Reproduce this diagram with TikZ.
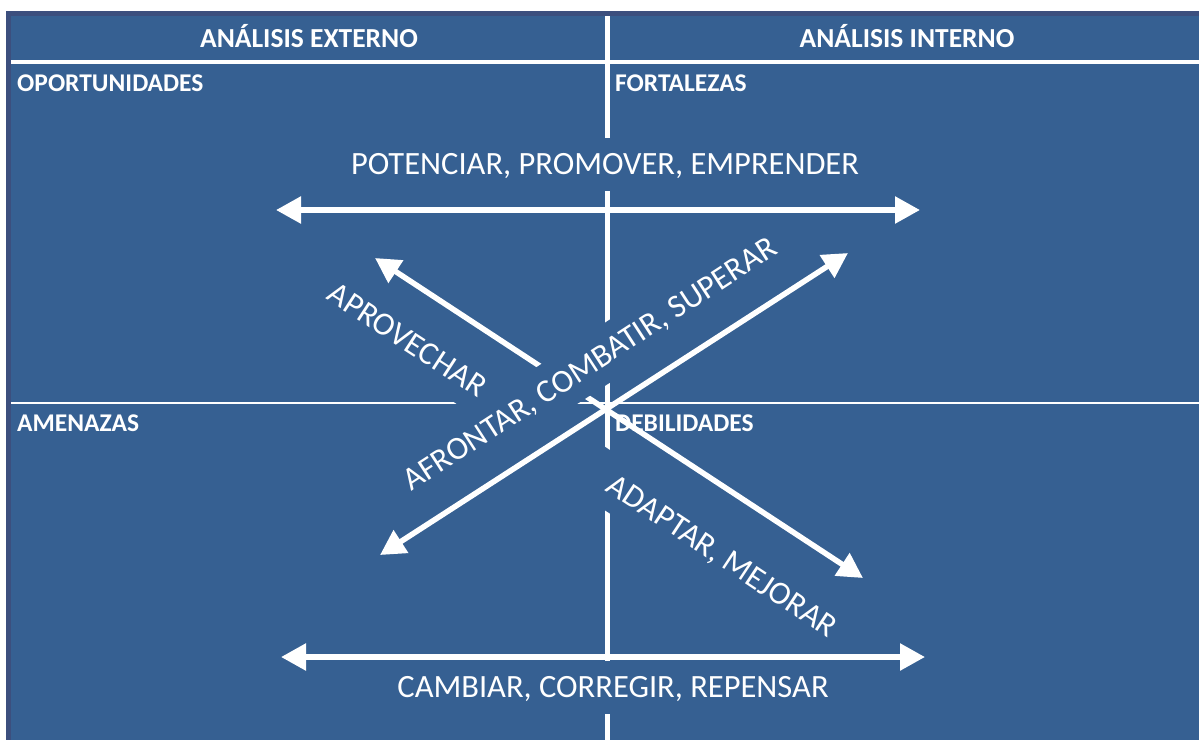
\documentclass[tikz,border=0pt]{standalone}
\usepackage{fontspec}
\setmainfont{Carlito}
\usepackage{xcolor}
\usepackage{tikz}
\usetikzlibrary{arrows.meta}
\definecolor{swotblue}{RGB}{54,96,146}
\definecolor{swotframe}{RGB}{60,79,126}

\begin{document}
\begin{tikzpicture}[x=1pt, y=-1pt, >={Triangle[length=25pt,width=26pt]}]
    \tikzstyle{header} = [anchor=base, inner sep=0pt, text=white, font=\fontsize{27.5}{32}\selectfont\bfseries]
    \tikzstyle{quadrant} = [anchor=base west, inner sep=0pt, text=white, font=\fontsize{25.5}{30}\selectfont\bfseries]
    \tikzstyle{action} = [fill=swotblue, text=white, text height=20pt, text depth=0pt, inner xsep=6pt, inner ysep=16.5pt, font=\fontsize{32.5}{38}\selectfont]
    \tikzstyle{gridline} = [draw=white, line width=5pt]
    \tikzstyle{bigarrow} = [draw=white, line width=5.5pt, <->]

    \useasboundingbox (0,0) rectangle (1199,740);

    % Table
    \fill[swotframe] (6,11) rectangle (1199,740);
    \fill[swotblue] (11,16) rectangle (1199,740);
    \draw[gridline, line width=4pt] (11,61.5) -- (1199,61.5);
    \draw[gridline, line width=2pt] (11,403) -- (1199,403);
    \draw[gridline] (607,16) -- (607,740);

    % Arrow end points
    \coordinate (potL) at (276,210);
    \coordinate (potR) at (920,210);
    \coordinate (camL) at (281,657);
    \coordinate (camR) at (925,657);
    \coordinate (aprov) at (375,258);
    \coordinate (adapt) at (863,578);
    \coordinate (afron) at (380,555);
    \coordinate (super) at (848,253);

    % Arrows
    \draw[bigarrow] (potL) -- (potR);
    \draw[bigarrow] (aprov) -- (adapt);

    % Strategies
    \node[action] (potenciar) at (605,164.5) {POTENCIAR, PROMOVER, EMPRENDER};
    \node[action] (cambiar) at (613,687.5) {CAMBIAR, CORREGIR, REPENSAR};
    \node[action, rotate=-33, inner xsep=12pt] (aprovechar) at (407,340) {APROVECHAR};
    \node[action, rotate=-33.5, inner xsep=28pt] (adaptar) at (722,556) {ADAPTAR, MEJORAR};
    \node[action, rotate=33] (afrontar) at (590,364) {AFRONTAR, COMBATIR, SUPERAR};

    \draw[bigarrow] (afron) -- (super);
    \draw[bigarrow] (camL) -- (camR);

    % Headers
    \node[header] (externo) at (309,47) {ANÁLISIS EXTERNO};
    \node[header] (interno) at (907,47) {ANÁLISIS INTERNO};

    % Quadrants
    \node[quadrant] (oportunidades) at (17,91) {OPORTUNIDADES};
    \node[quadrant] (fortalezas) at (615,91) {FORTALEZAS};
    \node[quadrant] (amenazas) at (17,431) {AMENAZAS};
    \node[quadrant] (debilidades) at (615,431) {DEBILIDADES};
\end{tikzpicture}
\end{document}
